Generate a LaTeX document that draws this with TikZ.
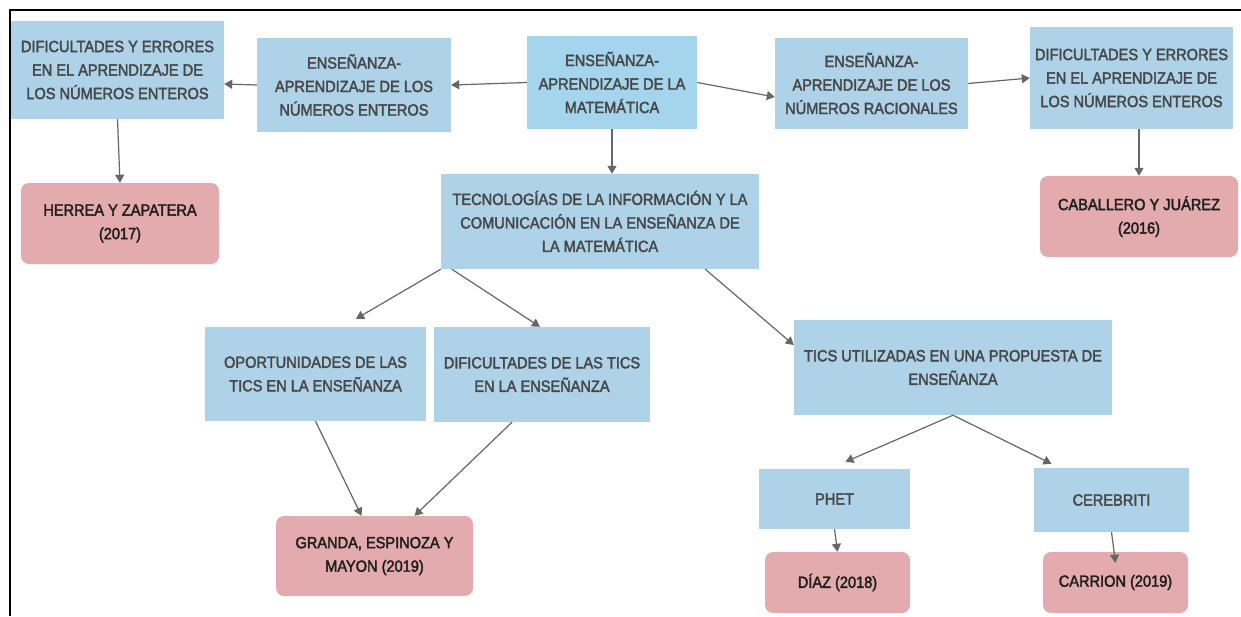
\documentclass[tikz,border=0pt]{standalone}
\usepackage{fontspec}
\setmainfont{Liberation Sans}
\newfontfamily\medfont{Liberation Sans}[FakeBold=2.2,FakeStretch=0.9]
\usetikzlibrary{arrows.meta,calc}
\definecolor{boxblue}{HTML}{AED2E7}
\definecolor{boxcyan}{HTML}{A4D5EC}
\definecolor{boxpink}{HTML}{E3ABAD}
\definecolor{arrowgray}{HTML}{666666}
\definecolor{txtgray}{HTML}{474747}
\definecolor{txtdark}{HTML}{1E1E1E}
\tikzset{
  base/.style={draw=none, inner sep=0pt, align=center, font=\medfont\fontsize{16.2}{23.5}\selectfont},
  bluebox/.style={base, fill=boxblue, text=txtgray},
  cyanbox/.style={base, fill=boxcyan, text=txtgray},
  pinkbox/.style={base, fill=boxpink, text=txtdark, rounded corners=8pt},
  conn/.style={draw=arrowgray, line width=1.2pt, -{Triangle[length=8pt,width=9pt]}},
  frameline/.style={draw=black, line width=2pt}
}
\begin{document}
\begin{tikzpicture}[x=1pt,y=-1pt]
\useasboundingbox (0,0) rectangle (1241,616);
\fill[white] (0,0) rectangle (1241,616);
\coordinate (ftl) at (10,10);
\coordinate (ftr) at (1241,10);
\coordinate (fbl) at (10,616);
\draw[frameline] (ftr) -- (ftl) -- (fbl);

\node[bluebox, minimum width=213pt, minimum height=98pt] (dif1) at (117.5,70) {DIFICULTADES Y ERRORES\\EN EL APRENDIZAJE DE\\LOS NÚMEROS ENTEROS};
\node[bluebox, minimum width=194pt, minimum height=94pt] (ent) at (354,85) {ENSEÑANZA-\\APRENDIZAJE DE LOS\\NÚMEROS ENTEROS};
\node[cyanbox, minimum width=170pt, minimum height=93pt] (mat) at (612,82.5) {ENSEÑANZA-\\APRENDIZAJE DE LA\\MATEMÁTICA};
\node[bluebox, minimum width=193pt, minimum height=91pt] (rac) at (871.5,83.5) {ENSEÑANZA-\\APRENDIZAJE DE LOS\\NÚMEROS RACIONALES};
\node[bluebox, minimum width=203pt, minimum height=102pt] (dif2) at (1131.5,78) {DIFICULTADES Y ERRORES\\EN EL APRENDIZAJE DE\\LOS NÚMEROS ENTEROS};
\node[pinkbox, minimum width=198pt, minimum height=81pt] (cab) at (1139,216.5) {CABALLERO Y JUÁREZ\\(2016)};
\node[pinkbox, minimum width=198pt, minimum height=81pt] (her) at (120,223.5) {HERREA Y ZAPATERA\\(2017)};
\node[bluebox, minimum width=318pt, minimum height=95pt] (tic) at (600,221.5) {TECNOLOGÍAS DE LA INFORMACIÓN Y LA\\COMUNICACIÓN EN LA ENSEÑANZA DE\\LA MATEMÁTICA};
\node[bluebox, minimum width=221pt, minimum height=94pt] (opo) at (315.5,374) {OPORTUNIDADES DE LAS\\TICS EN LA ENSEÑANZA};
\node[bluebox, minimum width=216pt, minimum height=95pt] (dift) at (542,374.5) {DIFICULTADES DE LAS TICS\\EN LA ENSEÑANZA};
\node[pinkbox, minimum width=197pt, minimum height=80pt] (gra) at (374.5,556) {GRANDA, ESPINOZA Y\\MAYON (2019)};
\node[bluebox, minimum width=318pt, minimum height=95pt] (ticu) at (953,367.5) {TICS UTILIZADAS EN UNA PROPUESTA DE\\ENSEÑANZA};
\node[bluebox, minimum width=151pt, minimum height=60pt] (phet) at (834.5,499) {PHET};
\node[bluebox, minimum width=155pt, minimum height=64pt] (cer) at (1111.5,500) {CEREBRITI};
\node[pinkbox, minimum width=145pt, minimum height=61pt] (diaz) at (837.5,582.5) {DÍAZ (2018)};
\node[pinkbox, minimum width=145pt, minimum height=61pt] (carr) at (1115.5,582.5) {CARRION (2019)};

\draw[conn] (mat.west) -- (ent.east);
\draw[conn] (mat.east) -- ([yshift=-13.5pt]rac.west);
\draw[conn] (ent.west) -- ([yshift=-14pt]dif1.east);
\draw[conn] (rac.east) -- (dif2.west);
\draw[conn] (dif1.south) -- (her.north);
\draw[conn] (dif2.south -| cab.north) -- (cab.north);
\draw[conn] (mat.south) -- (mat.south |- tic.north);
\draw[conn] (tic.south west) -- ([xshift=40.5pt,yshift=8pt]opo.north);
\draw[conn] ([xshift=11pt]tic.south west) -- ([xshift=-2pt]dift.north);
\draw[conn] ([xshift=-54pt]tic.south east) -- ([yshift=22.5pt]ticu.west);
\draw[conn] (opo.south) -- ([xshift=-13pt]gra.north);
\draw[conn] ([xshift=-30pt]dift.south) -- ([xshift=40pt]gra.north);
\draw[conn] (ticu.south) -- ([xshift=11pt,yshift=7pt]phet.north);
\draw[conn] (ticu.south) -- ([xshift=-60pt,yshift=4pt]cer.north);
\draw[conn] (phet.south) -- (diaz.north);
\draw[conn] (cer.south) -- ([yshift=-11pt]carr.north);
\end{tikzpicture}
\end{document}
